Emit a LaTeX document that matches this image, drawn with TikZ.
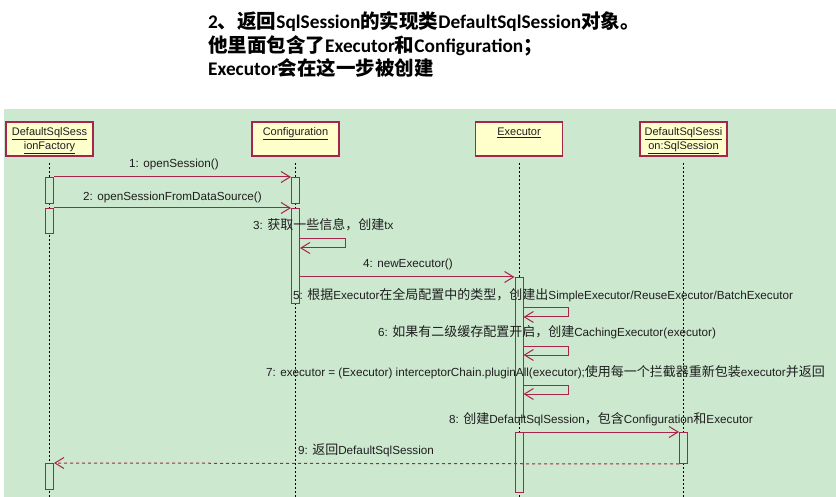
\documentclass[tikz,border=0pt]{standalone}
\usepackage{fontspec}
\setmainfont{Liberation Sans}
\newfontfamily\cjkfont{Noto Sans CJK SC}
\newfontfamily\hdrfont{Carlito}
\usetikzlibrary{arrows.meta}
\newcommand\zh[1]{{\cjkfont\fontsize{13}{13}\selectfont #1}}
\newcommand\hz[1]{{\cjkfont\bfseries\fontsize{19.5}{23.5}\selectfont #1}}
\definecolor{bgc}{RGB}{204,232,207}
\definecolor{lc}{RGB}{168,36,76}
\definecolor{boxc}{RGB}{255,255,204}
\definecolor{txc}{RGB}{30,30,30}
\tikzset{
  obj/.style={draw=lc, line width=1.1pt, fill=boxc, minimum width=87pt, minimum height=34pt, inner sep=0pt, align=center, font=\fontsize{11}{14}\selectfont, text=txc, text height=25pt, text depth=3pt},
  act/.style={draw=lc, line width=1pt, fill=bgc, minimum width=8pt, inner sep=0pt},
  life/.style={draw=black, line width=0.8pt, dash pattern=on 2pt off 2pt},
  msg/.style={draw=lc, line width=1pt, -{Straight Barb[length=9pt,width=11pt]}},
  ret/.style={draw=lc, line width=1pt, dash pattern=on 3pt off 3pt, -{Straight Barb[length=9pt,width=11pt]}},
  lbl/.style={anchor=base west, inner sep=0pt, font=\fontsize{11.7}{13}\selectfont, text=txc},
  hdl/.style={anchor=base west, inner sep=0pt, font=\hdrfont\bfseries\fontsize{19.3}{23.5}\selectfont, text=black},
}
\begin{document}
\begin{tikzpicture}[x=1pt,y=-1pt]
\useasboundingbox (0,0) rectangle (836,497);
\fill[white] (0,0) rectangle (836,497);
\fill[bgc] (4,109) rectangle (836,497);

% header
\node[hdl] (h1) at (208,29) {2\hz{、返回}SqlSession\hz{的实现类}DefaultSqlSession\hz{对象。}};
\node[hdl] (h2) at (208,52.5) {\hz{他里面包含了}Executor\hz{和}Configuration\hz{；}};
\node[hdl] (h3) at (208,76) {Executor\hz{会在这一步被创建}};

% participants
\node[obj] (fac) at (49.5,139) {\underline{DefaultSqlSess}\\\underline{ionFactory}};
\node[obj] (cfg) at (295.5,139) {\underline{Configuration}\\\mbox{}};
\node[obj] (exe) at (519,139) {\underline{Executor}\\\mbox{}};
\node[obj] (ses) at (683.5,139) {\underline{DefaultSqlSessi}\\\underline{on:SqlSession}};

% lifelines
\draw[life] (49.5,163) -- (49.5,497);
\draw[life] (295.5,163) -- (295.5,497);
\draw[life] (519,163) -- (519,497);
\draw[life] (683.5,163) -- (683.5,497);

% activations
\node[act, minimum height=26pt, anchor=north] (f1) at (49.5,177) {};
\node[act, minimum height=25pt, anchor=north] (f2) at (49.5,208) {};
\node[act, minimum height=26pt, anchor=north] (f3) at (49.5,463) {};
\node[act, minimum height=26pt, anchor=north] (c1) at (295.5,177) {};
\node[act, minimum height=95pt, anchor=north] (c2) at (295.5,208) {};
\node[act, minimum height=140pt, anchor=north] (e1) at (519,277) {};
\node[act, minimum height=60pt, anchor=north] (e2) at (519,432) {};
\node[act, minimum height=31pt, anchor=north] (s1) at (683.5,432) {};

% messages
\draw[msg] (f1.north east) -- (c1.north west);
\node[lbl] (l1) at (129,168) {1: openSession()};
\draw[msg] (f2.north east) -- (c2.north west);
\node[lbl] (l2) at (83,201) {2: openSessionFromDataSource()};

\draw[msg] (c2.east |- 0,239) -- (345,239) -- (345,248) -- (c2.east |- 0,248);
\node[lbl] (l3) at (253,230) {3: \zh{获取一些信息，创建}tx};

\draw[msg] (c2.east |- e1.north) -- (e1.north west);
\node[lbl] (l4) at (363,268) {4: newExecutor()};

\draw[msg] (e1.east |- 0,308) -- (568,308) -- (568,317) -- (e1.east |- 0,317);
\node[lbl] (l5) at (293,300) {5: \zh{根据}Executor\zh{在全局配置中的类型，创建出}SimpleExecutor/ReuseExecutor/BatchExecutor};

\draw[msg] (e1.east |- 0,346) -- (568,346) -- (568,355) -- (e1.east |- 0,355);
\node[lbl] (l6) at (378,337) {6: \zh{如果有二级缓存配置开启，创建}CachingExecutor(executor)};

\draw[msg] (e1.east |- 0,385) -- (568,385) -- (568,394) -- (e1.east |- 0,394);
\node[lbl] (l7) at (266,376) {7: executor = (Executor) interceptorChain.pluginAll(executor);\zh{使用每一个拦截器重新包装}executor\zh{并返回}};

\draw[msg] (e2.north east) -- (s1.north west);
\node[lbl] (l8) at (449,423) {8: \zh{创建}DefaultSqlSession\zh{，包含}Configuration\zh{和}Executor};

\draw[ret] (s1.south west) -- (f3.north east);
\node[lbl] (l9) at (298,454) {9: \zh{返回}DefaultSqlSession};
\end{tikzpicture}
\end{document}
